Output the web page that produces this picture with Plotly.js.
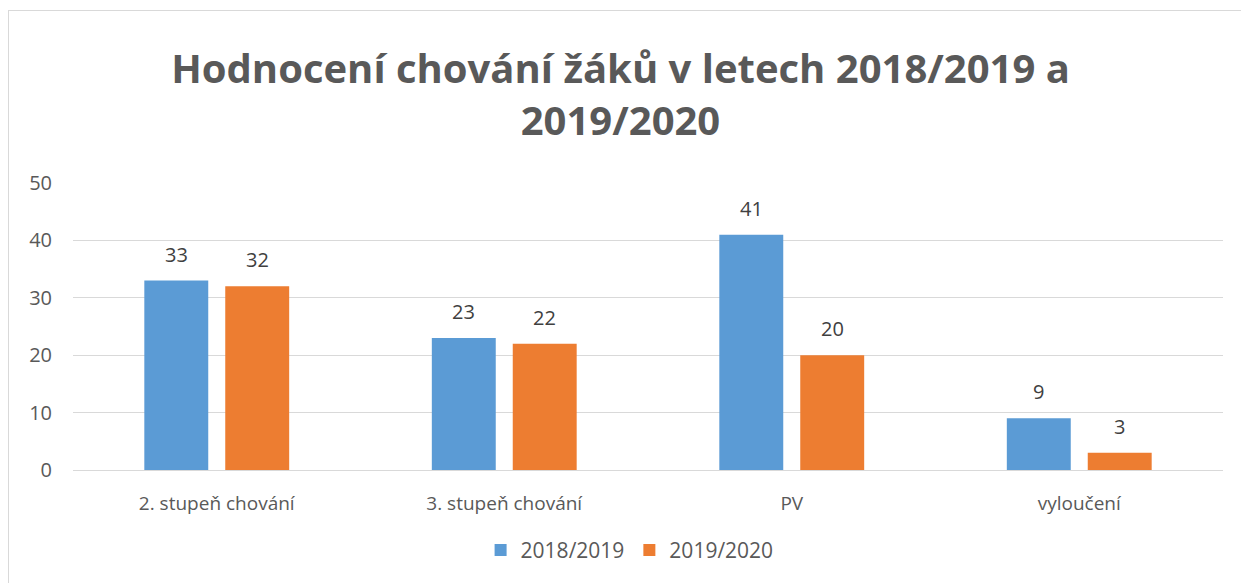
<!DOCTYPE html>
<html><head><meta charset="utf-8">
<script src="https://cdn.plot.ly/plotly-3.0.1.min.js"></script>
<style>
html,body{margin:0;padding:0;background:#fff;}
#frame{position:absolute;left:8px;top:10px;width:1240px;height:580px;border:1px solid #d9d9d9;box-sizing:border-box;pointer-events:none;}
#chart{width:1241px;height:583px;}
</style></head>
<body>
<div id="chart"></div>
<div id="frame"></div>
<script>
const categories = ["2. stupeň chování", "3. stupeň chování", "PV", "vyloučení"];
const series1Name = "2018/2019";
const series2Name = "2019/2020";
const series1 = [33, 23, 41, 9];
const series2 = [32, 22, 20, 3];
const yTicks = [0, 10, 20, 30, 40, 50];

const c1 = "#5B9BD5", c2 = "#ED7D31";
const font = "Open Sans, Liberation Sans, sans-serif";

const traces = [
  {type:"bar", name:series1Name, x:categories, y:series1, marker:{color:c1}, hoverinfo:"none"},
  {type:"bar", name:series2Name, x:categories, y:series2, marker:{color:c2}, hoverinfo:"none"}
];

const annotations = [];
categories.forEach((c,i)=>{
  annotations.push({x:c, y:series1[i], xref:"x", yref:"y", text:String(series1[i]), showarrow:false, xshift:-40.5, yshift:11, yanchor:"bottom", font:{size:20, color:"#404040", family:font}});
  annotations.push({x:c, y:series2[i], xref:"x", yref:"y", text:String(series2[i]), showarrow:false, xshift:40.5, yshift:11, yanchor:"bottom", font:{size:20, color:"#404040", family:font}});
});

const layout = {
  width:1241, height:583,
  paper_bgcolor:"#fff", plot_bgcolor:"#fff",
  margin:{l:73, r:18, t:183, b:111},
  title:{text:"Hodnocení chování žáků v letech 2018/2019 a<br>2019/2020", x:0.5, xanchor:"center", yref:"container", y:0.857, yanchor:"middle",
         font:{family:font, size:40, color:"#595959", weight:"bold"}},
  barmode:"group", bargap:0.437, bargroupgap:0.21,
  xaxis:{type:"category", tickfont:{family:font, size:19, color:"#595959"}, showline:true, linecolor:"#d9d9d9", linewidth:1, ticks:"", ticklabelstandoff:16, fixedrange:true},
  yaxis:{range:[0,50], tickvals:yTicks, ticktext:yTicks.map(String), tickfont:{family:font, size:20, color:"#595959"}, showgrid:true, gridcolor:"#d9d9d9", gridwidth:1, zeroline:false, showline:false, ticks:"", ticklabelstandoff:20, fixedrange:true},
  legend:{orientation:"h", x:0.484, xanchor:"center", y:-0.28, yanchor:"middle", font:{family:font, size:21, color:"#595959"}, itemwidth:30, traceorder:"normal"},
  annotations:annotations,
  showlegend:true
};

Plotly.newPlot("chart", traces, layout, {displayModeBar:false, staticPlot:true});
</script>
</body></html>
